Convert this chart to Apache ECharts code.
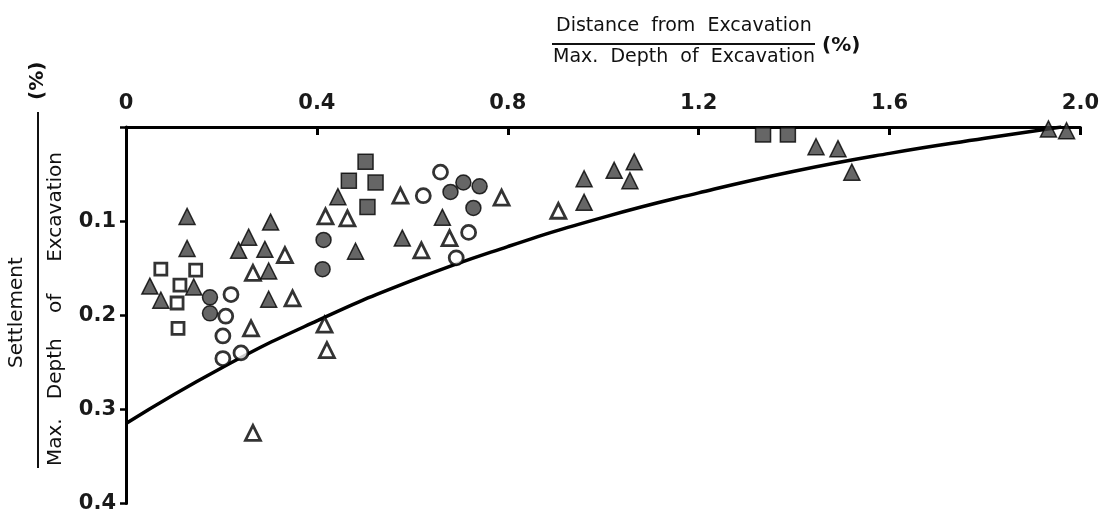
<!DOCTYPE html>
<html>
<head>
<meta charset="utf-8">
<script src="https://cdn.jsdelivr.net/npm/echarts@6/dist/echarts.min.js"></script>
<style>
html,body{margin:0;padding:0;background:#fff;}
#chart{width:1102px;height:514px;}
</style>
</head>
<body>
<div id="chart"></div>
<script>
// x: distance / max depth (%), y: settlement / max depth (%)
const xTicks = [0, 0.4, 0.8, 1.2, 1.6, 2.0];
const yTicks = [0, 0.1, 0.2, 0.3, 0.4];

const filledTriangles = [
  [0.128,0.095],[0.128,0.129],[0.050,0.169],[0.073,0.184],[0.142,0.170],
  [0.257,0.117],[0.236,0.131],[0.291,0.130],[0.303,0.101],[0.299,0.153],
  [0.299,0.183],[0.444,0.074],[0.481,0.132],[0.579,0.118],[0.663,0.096],
  [0.960,0.055],[0.960,0.080],[1.023,0.046],[1.065,0.037],[1.056,0.057],
  [1.446,0.021],[1.492,0.023],[1.521,0.048],[1.933,0.002],[1.971,0.004]
];
const openTriangles = [
  [0.266,0.155],[0.333,0.136],[0.349,0.182],[0.262,0.214],[0.266,0.325],
  [0.418,0.095],[0.464,0.097],[0.416,0.210],[0.421,0.237],[0.575,0.073],
  [0.619,0.131],[0.678,0.118],[0.787,0.075],[0.906,0.089]
];
const filledCircles = [
  [0.414,0.120],[0.412,0.151],[0.176,0.181],[0.176,0.198],
  [0.680,0.069],[0.707,0.059],[0.741,0.063],[0.728,0.086]
];
const openCircles = [
  [0.220,0.178],[0.209,0.201],[0.203,0.222],[0.203,0.246],[0.241,0.240],
  [0.623,0.073],[0.659,0.048],[0.718,0.112],[0.692,0.139]
];
const filledSquares = [
  [0.502,0.037],[0.467,0.057],[0.523,0.059],[0.506,0.085],
  [1.335,0.008],[1.387,0.008]
];
const openSquares = [
  [0.073,0.151],[0.146,0.152],[0.113,0.168],[0.107,0.187],[0.109,0.214]
];
const boundCurve = [
  [0,0.315],[0.2,0.256],[0.4,0.206],[0.6,0.163],[0.8,0.127],[1.0,0.096],
  [1.2,0.070],[1.4,0.047],[1.6,0.028],[1.8,0.012],[1.96,0.0]
];

const FONT = 'DejaVu Sans';
const filledStyle = {color:'#404040', borderColor:'#000', borderWidth:1.5};
const openStyle = {color:'#fff', borderColor:'#000', borderWidth:2.8};

function scatter(name, data, symbol, size, style){
  return {name, type:'scatter', data, symbol, symbolSize:size, itemStyle:style, z:3};
}

const chart = echarts.init(document.getElementById('chart'), null, {renderer:'canvas'});
chart.setOption({
  backgroundColor:'#fff',
  animation:false,
  grid:{left:126, top:127, right:20, bottom:7, containLabel:false},
  xAxis:{
    type:'value', position:'top', min:xTicks[0], max:xTicks[xTicks.length-1], interval:0.4,
    axisLine:{show:true, onZero:false, lineStyle:{color:'#000', width:3}},
    axisTick:{show:true, inside:true, length:8, lineStyle:{color:'#000', width:3}},
    axisLabel:{show:true, margin:13, fontFamily:FONT, fontSize:21, fontWeight:'bold', color:'#1a1a1a',
      formatter:v => v===0 ? '0' : v.toFixed(1)},
    splitLine:{show:false}
  },
  yAxis:{
    type:'value', inverse:true, min:yTicks[0], max:yTicks[yTicks.length-1], interval:0.1,
    axisLine:{show:true, onZero:false, lineStyle:{color:'#000', width:3}},
    axisTick:{show:true, inside:false, length:6, lineStyle:{color:'#000', width:2.5}},
    axisLabel:{show:true, margin:10, fontFamily:FONT, fontSize:21, fontWeight:'bold', color:'#1a1a1a',
      formatter:v => v===0 ? '' : v.toFixed(1)},
    splitLine:{show:false}
  },
  series:[
    {type:'line', data:boundCurve, smooth:true, symbol:'none',
     lineStyle:{color:'#000', width:3.5}, z:2},
    scatter('filledTriangles', filledTriangles, 'triangle', 16, filledStyle),
    scatter('openTriangles', openTriangles, 'triangle', 15, openStyle),
    scatter('filledCircles', filledCircles, 'circle', 15, filledStyle),
    scatter('openCircles', openCircles, 'circle', 14, openStyle),
    scatter('filledSquares', filledSquares, 'rect', 15, filledStyle),
    scatter('openSquares', openSquares, 'rect', 12, openStyle)
  ],
  graphic:[
    {type:'text', left:556, top:17, style:{text:'Distance  from  Excavation', font:'500 19px "DejaVu Sans"', fill:'#111'}},
    {type:'line', shape:{x1:552, y1:44, x2:815, y2:44}, style:{stroke:'#111', lineWidth:2}},
    {type:'text', left:553, top:48, style:{text:'Max.  Depth  of  Excavation', font:'500 19px "DejaVu Sans"', fill:'#111'}},
    {type:'text', left:822, top:36, style:{text:'(%)', font:'bold 20px "DejaVu Sans"', fill:'#111'}},
    {type:'text', rotation:Math.PI/2, x:7, y:368, style:{text:'Settlement', font:'500 20px "DejaVu Sans"', fill:'#111'}},
    {type:'line', shape:{x1:38, y1:112, x2:38, y2:468}, style:{stroke:'#111', lineWidth:2}},
    {type:'text', rotation:Math.PI/2, x:46, y:466, style:{text:'Max.   Depth    of     Excavation', font:'500 20px "DejaVu Sans"', fill:'#111'}},
    {type:'text', rotation:Math.PI/2, x:28, y:100, style:{text:'(%)', font:'bold 20px "DejaVu Sans"', fill:'#111'}}
  ]
});
</script>
</body>
</html>
